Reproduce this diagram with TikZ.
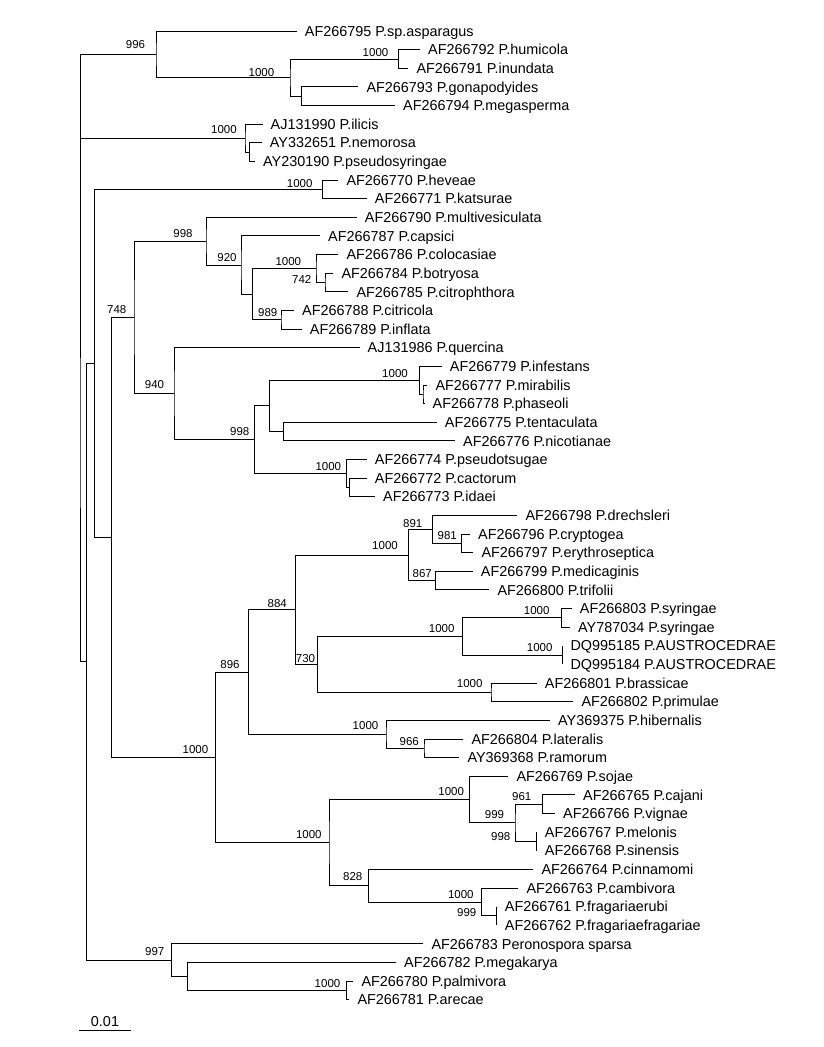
\documentclass[tikz,border=0pt]{standalone}
\usepackage{fontspec}
\setmainfont{Liberation Sans}
\begin{document}
\begin{tikzpicture}[x=1pt, y=-1pt,
    branch/.style={draw, line width=0.9pt, line join=miter},
    taxon/.style={anchor=base west, inner sep=0pt, xshift=8pt, yshift=-5.2pt, font=\fontsize{14.4}{17}\selectfont},
    boot/.style={inner sep=0pt, font=\fontsize{11.5}{13}\selectfont}]
  \useasboundingbox (0,0) rectangle (824,1047);

  % Leaves
  \path (296.7, 31+18.63*0)  coordinate (l1)  node[taxon] (t1)  {AF266795 P.sp.asparagus};
  \path (420.0, 31+18.63*1)  coordinate (l2)  node[taxon] (t2)  {AF266792 P.humicola};
  \path (408.3, 31+18.63*2)  coordinate (l3)  node[taxon] (t3)  {AF266791 P.inundata};
  \path (358.3, 31+18.63*3)  coordinate (l4)  node[taxon] (t4)  {AF266793 P.gonapodyides};
  \path (395.0, 31+18.63*4)  coordinate (l5)  node[taxon] (t5)  {AF266794 P.megasperma};
  \path (262.5, 31+18.63*5)  coordinate (l6)  node[taxon] (t6)  {AJ131990 P.ilicis};
  \path (261.7, 31+18.63*6)  coordinate (l7)  node[taxon] (t7)  {AY332651 P.nemorosa};
  \path (255.0, 31+18.63*7)  coordinate (l8)  node[taxon] (t8)  {AY230190 P.pseudosyringae};
  \path (338.3, 31+18.63*8)  coordinate (l9)  node[taxon] (t9)  {AF266770 P.heveae};
  \path (366.7, 31+18.63*9)  coordinate (l10) node[taxon] (t10) {AF266771 P.katsurae};
  \path (356.7, 31+18.63*10) coordinate (l11) node[taxon] (t11) {AF266790 P.multivesiculata};
  \path (320.0, 31+18.63*11) coordinate (l12) node[taxon] (t12) {AF266787 P.capsici};
  \path (338.3, 31+18.63*12) coordinate (l13) node[taxon] (t13) {AF266786 P.colocasiae};
  \path (333.3, 31+18.63*13) coordinate (l14) node[taxon] (t14) {AF266784 P.botryosa};
  \path (348.3, 31+18.63*14) coordinate (l15) node[taxon] (t15) {AF266785 P.citrophthora};
  \path (294.0, 31+18.63*15) coordinate (l16) node[taxon] (t16) {AF266788 P.citricola};
  \path (301.7, 31+18.63*16) coordinate (l17) node[taxon] (t17) {AF266789 P.inflata};
  \path (359.5, 31+18.63*17) coordinate (l18) node[taxon] (t18) {AJ131986 P.quercina};
  \path (441.7, 31+18.63*18) coordinate (l19) node[taxon] (t19) {AF266779 P.infestans};
  \path (427.3, 31+18.63*19) coordinate (l20) node[taxon] (t20) {AF266777 P.mirabilis};
  \path (424.5, 31+18.63*20) coordinate (l21) node[taxon] (t21) {AF266778 P.phaseoli};
  \path (436.7, 31+18.63*21) coordinate (l22) node[taxon] (t22) {AF266775 P.tentaculata};
  \path (455.0, 31+18.63*22) coordinate (l23) node[taxon] (t23) {AF266776 P.nicotianae};
  \path (366.7, 31+18.63*23) coordinate (l24) node[taxon] (t24) {AF266774 P.pseudotsugae};
  \path (366.7, 31+18.63*24) coordinate (l25) node[taxon] (t25) {AF266772 P.cactorum};
  \path (375.0, 31+18.63*25) coordinate (l26) node[taxon] (t26) {AF266773 P.idaei};
  \path (517.3, 31+18.63*26) coordinate (l27) node[taxon] (t27) {AF266798 P.drechsleri};
  \path (470.0, 31+18.63*27) coordinate (l28) node[taxon] (t28) {AF266796 P.cryptogea};
  \path (473.3, 31+18.63*28) coordinate (l29) node[taxon] (t29) {AF266797 P.erythroseptica};
  \path (472.7, 31+18.63*29) coordinate (l30) node[taxon] (t30) {AF266799 P.medicaginis};
  \path (489.3, 31+18.63*30) coordinate (l31) node[taxon] (t31) {AF266800 P.trifolii};
  \path (571.7, 31+18.63*31) coordinate (l32) node[taxon] (t32) {AF266803 P.syringae};
  \path (570.0, 31+18.63*32) coordinate (l33) node[taxon] (t33) {AY787034 P.syringae};
  \path (562.3, 31+18.63*33) coordinate (l34) node[taxon] (t34) {DQ995185 P.AUSTROCEDRAE};
  \path (562.3, 31+18.63*34) coordinate (l35) node[taxon] (t35) {DQ995184 P.AUSTROCEDRAE};
  \path (536.7, 31+18.63*35) coordinate (l36) node[taxon] (t36) {AF266801 P.brassicae};
  \path (573.3, 31+18.63*36) coordinate (l37) node[taxon] (t37) {AF266802 P.primulae};
  \path (550.0, 31+18.63*37) coordinate (l38) node[taxon] (t38) {AY369375 P.hibernalis};
  \path (463.3, 31+18.63*38) coordinate (l39) node[taxon] (t39) {AF266804 P.lateralis};
  \path (459.3, 31+18.63*39) coordinate (l40) node[taxon] (t40) {AY369368 P.ramorum};
  \path (508.3, 31+18.63*40) coordinate (l41) node[taxon] (t41) {AF266769 P.sojae};
  \path (575.0, 31+18.63*41) coordinate (l42) node[taxon] (t42) {AF266765 P.cajani};
  \path (555.0, 31+18.63*42) coordinate (l43) node[taxon] (t43) {AF266766 P.vignae};
  \path (536.7, 31+18.63*43) coordinate (l44) node[taxon] (t44) {AF266767 P.melonis};
  \path (536.7, 31+18.63*44) coordinate (l45) node[taxon] (t45) {AF266768 P.sinensis};
  \path (533.3, 31+18.63*45) coordinate (l46) node[taxon] (t46) {AF266764 P.cinnamomi};
  \path (518.3, 31+18.63*46) coordinate (l47) node[taxon] (t47) {AF266763 P.cambivora};
  \path (496.7, 31+18.63*47) coordinate (l48) node[taxon] (t48) {AF266761 P.fragariaerubi};
  \path (496.7, 31+18.63*48) coordinate (l49) node[taxon] (t49) {AF266762 P.fragariaefragariae};
  \path (423.3, 31+18.63*49) coordinate (l50) node[taxon] (t50) {AF266783 Peronospora sparsa};
  \path (396.0, 31+18.63*50) coordinate (l51) node[taxon] (t51) {AF266782 P.megakarya};
  \path (353.3, 31+18.63*51) coordinate (l52) node[taxon] (t52) {AF266780 P.palmivora};
  \path (349.3, 31+18.63*52) coordinate (l53) node[taxon] (t53) {AF266781 P.arecae};

  % Internal nodes
  \coordinate (root) at (80.0, 358.05);
  \coordinate (n1)  at (398.3, 58.95);
  \coordinate (n2)  at (301.7, 96.2);
  \coordinate (n3)  at (290.0, 77.6);
  \coordinate (n4)  at (156.0, 54.3);
  \coordinate (n5)  at (249.3, 152.1);
  \coordinate (n6)  at (245.0, 138.15);
  \coordinate (n7)  at (322.2, 189.35);
  \coordinate (n8)  at (325.0, 282.5);
  \coordinate (n9)  at (316.0, 268.55);
  \coordinate (n10) at (281.0, 319.8);
  \coordinate (n11) at (252.3, 294.2);
  \coordinate (n12) at (241.0, 265.05);
  \coordinate (n13) at (206.0, 241.2);
  \coordinate (n14) at (423.0, 394.3);
  \coordinate (n15) at (419.3, 380.3);
  \coordinate (n16) at (283.3, 431.55);
  \coordinate (n17) at (269.3, 405.9);
  \coordinate (n18) at (349.3, 487.45);
  \coordinate (n19) at (346.7, 473.5);
  \coordinate (n20) at (254.7, 439.7);
  \coordinate (n21) at (174.0, 393.7);
  \coordinate (n22) at (134.0, 317.45);
  \coordinate (n23) at (461.7, 543.3);
  \coordinate (n24) at (432.3, 529.3);
  \coordinate (n25) at (435.7, 580.6);
  \coordinate (n26) at (408.3, 554.95);
  \coordinate (n27) at (561.7, 617.85);
  \coordinate (n28) at (562.3, 655.1);
  \coordinate (n29) at (462.3, 636.5);
  \coordinate (n30) at (491.0, 692.4);
  \coordinate (n31) at (317.3, 664.45);
  \coordinate (n32) at (295.7, 609.7);
  \coordinate (n33) at (424.0, 748.3);
  \coordinate (n34) at (386.0, 734.3);
  \coordinate (n35) at (248.3, 672.0);
  \coordinate (n36) at (542.7, 804.15);
  \coordinate (n37) at (536.7, 841.4);
  \coordinate (n38) at (515.0, 822.8);
  \coordinate (n39) at (469.3, 799.5);
  \coordinate (n40) at (496.7, 915.9);
  \coordinate (n41) at (481.7, 901.95);
  \coordinate (n42) at (368.3, 885.7);
  \coordinate (n43) at (329.0, 842.6);
  \coordinate (n44) at (215.7, 757.3);
  \coordinate (n45) at (346.3, 990.45);
  \coordinate (n46) at (187.3, 976.5);
  \coordinate (n47) at (171.7, 960.2);
  \coordinate (n48) at (111.7, 537.4);
  \coordinate (n49) at (94.3, 363.4);
  \coordinate (n50) at (86.7, 661.8);

  % Branches
  \draw[branch] (n4) -| (root) |- (n50);
  \draw[branch] (root) |- (n6);
  \draw[branch] (l1) -| (n4) |- (n3);
  \draw[branch] (n1) -| (n3) |- (n2);
  \draw[branch] (l2) -| (n1) |- (l3);
  \draw[branch] (l4) -| (n2) |- (l5);
  \draw[branch] (l6) -| (n6) |- (n5);
  \draw[branch] (l7) -| (n5) |- (l8);
  \draw[branch] (n49) -| (n50) |- (n47);
  \draw[branch] (n7) -| (n49) |- (n48);
  \draw[branch] (l9) -| (n7) |- (l10);
  \draw[branch] (n22) -| (n48) |- (n44);
  \draw[branch] (n13) -| (n22) |- (n21);
  \draw[branch] (l11) -| (n13) |- (n12);
  \draw[branch] (l12) -| (n12) |- (n11);
  \draw[branch] (n9) -| (n11) |- (n10);
  \draw[branch] (l13) -| (n9) |- (n8);
  \draw[branch] (l14) -| (n8) |- (l15);
  \draw[branch] (l16) -| (n10) |- (l17);
  \draw[branch] (l18) -| (n21) |- (n20);
  \draw[branch] (n17) -| (n20) |- (n19);
  \draw[branch] (n15) -| (n17) |- (n16);
  \draw[branch] (l19) -| (n15) |- (n14);
  \draw[branch] (l20) -| (n14) |- (l21);
  \draw[branch] (l22) -| (n16) |- (l23);
  \draw[branch] (l24) -| (n19) |- (n18);
  \draw[branch] (l25) -| (n18) |- (l26);
  \draw[branch] (n35) -| (n44) |- (n43);
  \draw[branch] (n32) -| (n35) |- (n34);
  \draw[branch] (n26) -| (n32) |- (n31);
  \draw[branch] (n24) -| (n26) |- (n25);
  \draw[branch] (l27) -| (n24) |- (n23);
  \draw[branch] (l28) -| (n23) |- (l29);
  \draw[branch] (l30) -| (n25) |- (l31);
  \draw[branch] (n29) -| (n31) |- (n30);
  \draw[branch] (n27) -| (n29) |- (n28);
  \draw[branch] (l32) -| (n27) |- (l33);
  \draw[branch] (l34) -- (l35);
  \draw[branch] (l36) -| (n30) |- (l37);
  \draw[branch] (l38) -| (n34) |- (n33);
  \draw[branch] (l39) -| (n33) |- (l40);
  \draw[branch] (n39) -| (n43) |- (n42);
  \draw[branch] (l41) -| (n39) |- (n38);
  \draw[branch] (n36) -| (n38) |- (n37);
  \draw[branch] (l42) -| (n36) |- (l43);
  \draw[branch] (l44) -- (l45);
  \draw[branch] (l46) -| (n42) |- (n41);
  \draw[branch] (l47) -| (n41) |- (n40);
  \draw[branch] (l48) -- (l49);
  \draw[branch] (l50) -| (n47) |- (n46);
  \draw[branch] (l51) -| (n46) |- (n45);
  \draw[branch] (l52) -| (n45) |- (l53);

  % Bootstrap values
  \node[boot] (b4)  at (135.5, 45.0)  {996};
  \node[boot] (b3)  at (261.5, 72.7)  {1000};
  \node[boot] (b1)  at (375.5, 52.7)  {1000};
  \node[boot] (b6)  at (224.0, 129.3) {1000};
  \node[boot] (b7)  at (299.7, 183.3) {1000};
  \node[boot] (b13) at (183.0, 233.3) {998};
  \node[boot] (b12) at (227.0, 257.7) {920};
  \node[boot] (b9)  at (288.3, 261.7) {1000};
  \node[boot] (b8)  at (301.7, 279.3) {742};
  \node[boot] (b10) at (267.8, 312.7) {989};
  \node[boot] (b22) at (116.7, 309.3) {748};
  \node[boot] (b21) at (154.5, 384.3) {940};
  \node[boot] (b20) at (239.7, 431.7) {998};
  \node[boot] (b15) at (395.0, 373.3) {1000};
  \node[boot] (b19) at (328.3, 466.7) {1000};
  \node[boot] (b24) at (412.7, 523.3) {891};
  \node[boot] (b23) at (447.3, 536.0) {981};
  \node[boot] (b26) at (385.0, 545.7) {1000};
  \node[boot] (b25) at (422.2, 573.3) {867};
  \node[boot] (b32) at (277.3, 603.3) {884};
  \node[boot] (b27) at (536.7, 610.7) {1000};
  \node[boot] (b29) at (441.7, 628.3) {1000};
  \node[boot] (b28) at (539.7, 647.3) {1000};
  \node[boot] (b31) at (305.5, 658.3) {730};
  \node[boot] (b30) at (469.7, 684.0) {1000};
  \node[boot] (b35) at (230.0, 664.3) {896};
  \node[boot] (b34) at (365.5, 725.7) {1000};
  \node[boot] (b33) at (409.3, 741.7) {966};
  \node[boot] (b44) at (195.5, 749.3) {1000};
  \node[boot] (b43) at (308.8, 834.3) {1000};
  \node[boot] (b39) at (451.2, 791.7) {1000};
  \node[boot] (b36) at (521.7, 796.7) {961};
  \node[boot] (b38) at (494.5, 815.0) {999};
  \node[boot] (b37) at (500.7, 836.7) {998};
  \node[boot] (b42) at (352.7, 876.7) {828};
  \node[boot] (b41) at (460.8, 894.3) {1000};
  \node[boot] (b40) at (466.7, 912.7) {999};
  \node[boot] (b47) at (154.7, 951.7) {997};
  \node[boot] (b45) at (327.5, 983.3) {1000};

  % Scale bar
  \coordinate (s1) at (79.3, 1030);
  \coordinate (s2) at (130.7, 1030);
  \draw[branch] (s1) -- (s2) node[midway, above=3pt, inner sep=0pt, font=\fontsize{14.4}{17}\selectfont] (scale) {0.01};
\end{tikzpicture}
\end{document}
